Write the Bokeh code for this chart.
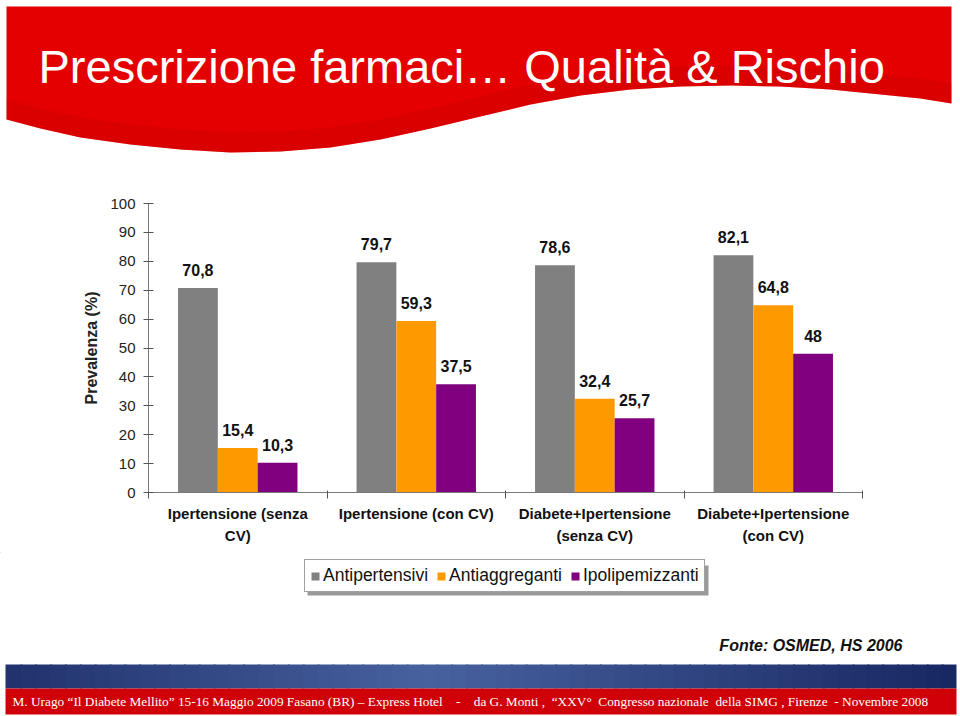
import numpy as np
from bokeh.plotting import figure
from bokeh.models import Range1d, FixedTicker, Legend, LegendItem, ColumnDataSource
from bokeh.layouts import column
from bokeh.embed import file_html
from bokeh.resources import INLINE
from bokeh.core.properties import value

# ---------------- data ----------------
title_text = "Prescrizione farmaci\u2026 Qualit\u00e0 & Rischio"
categories = ["Ipertensione (senza\nCV)", "Ipertensione (con CV)",
              "Diabete+Ipertensione\n(senza CV)", "Diabete+Ipertensione\n(con CV)"]
series_names = ["Antipertensivi", "Antiaggreganti", "Ipolipemizzanti"]
antipertensivi = [70.8, 79.7, 78.6, 82.1]
antiaggreganti = [15.4, 59.3, 32.4, 64.8]
ipolipemizzanti = [10.3, 37.5, 25.7, 48.0]
y_ticks = [0, 10, 20, 30, 40, 50, 60, 70, 80, 90, 100]
y_axis_title = "Prevalenza (%)"
source_note = "Fonte: OSMED, HS 2006"
NB = "\u00a0"
footer_note = ("M. Urago \u201cIl Diabete Mellito\u201d 15-16 Maggio 2009 Fasano (BR) \u2013 Express Hotel"
               + NB * 4 + "-" + NB * 4 + "da G. Monti ," + NB * 2 + "\u201cXXV\u00b0" + NB * 2
               + "Congresso nazionale" + NB * 2 + "della SIMG , Firenze" + NB * 2 + "- Novembre 2008")

series_values = [antipertensivi, antiaggreganti, ipolipemizzanti]
series_colors = ["#808080", "#FF9900", "#800080"]

FONT = value("Liberation Sans")
W = 960

def bare(fig):
    fig.grid.visible = False
    fig.outline_line_color = None
    return fig

# ---------------- header (page y 0..160) ----------------
head = bare(figure(width=W, height=160, x_range=Range1d(0, 960), y_range=Range1d(160, 0),
                   x_axis_type=None, y_axis_type=None, output_backend="svg",
                   toolbar_location=None, min_border=0, frame_align=False))
wave_x = [6, 40, 80, 130, 180, 230, 280, 330, 380, 430, 480, 530, 580, 630, 680, 730, 780, 830, 880, 920, 951]
wave_y = [119, 128, 137, 144, 149, 152, 151, 147, 139, 128, 116, 104, 95, 89, 86, 85, 86, 89, 94, 98, 103]
head.patch([6, 951] + wave_x[::-1], [6, 6] + wave_y[::-1], fill_color="#E40000", line_color=None)
shade_y = [y - 20 for y in wave_y]
head.patch(wave_x + wave_x[::-1], wave_y + shade_y[::-1], fill_color="#C80000", fill_alpha=0.3,
           line_color=None)
head.text(x=[38], y=[66], text=[title_text], text_font=FONT, text_font_size="47px",
          text_color="white", text_baseline="middle", text_align="left")

# ---------------- chart (page y 160..552) ----------------
p = bare(figure(frame_width=714, frame_height=289, x_range=Range1d(0, 4), y_range=Range1d(0, 100),
                output_backend="svg", toolbar_location=None, frame_align=False,
                min_border_left=148, min_border_right=98, min_border_top=43, min_border_bottom=60))

centers = np.arange(len(categories)) + 0.5
bw = 0.223
offsets = [-bw, 0.0, bw]
for name, vals, col, off in zip(series_names, series_values, series_colors, offsets):
    src = ColumnDataSource(dict(x=centers + off, top=vals,
                                lab=[("%g" % v).replace(".", ",") for v in vals]))
    p.vbar(x="x", top="top", bottom=0, width=bw, source=src, fill_color=col, line_color=None)
    p.text(x="x", y="top", text="lab", source=src, text_align="center", text_baseline="bottom",
           y_offset=-12, text_font=FONT, text_font_style="bold", text_font_size="16px",
           text_color="#111111")

ya = p.yaxis[0]
ya.ticker = FixedTicker(ticks=y_ticks, minor_ticks=[])
ya.axis_line_color = "#7a7a7a"
ya.major_tick_line_color = "#555555"
ya.major_tick_in = 5
ya.major_tick_out = 5
ya.major_label_text_font = "Liberation Sans"
ya.major_label_text_font_size = "15px"
ya.major_label_text_color = "#222222"
ya.major_label_standoff = 8
ya.axis_label = y_axis_title
ya.axis_label_text_font = "Liberation Sans"
ya.axis_label_text_font_style = "bold"
ya.axis_label_text_font_size = "16px"
ya.axis_label_text_color = "#222222"
ya.axis_label_standoff = 7

xa = p.xaxis[0]
xa.ticker = FixedTicker(ticks=list(centers), minor_ticks=list(range(len(categories) + 1)))
xa.major_label_overrides = {float(c): lab for c, lab in zip(centers, categories)}
xa.axis_line_color = "#7a7a7a"
xa.major_tick_in = 0
xa.major_tick_out = 0
xa.minor_tick_in = 2
xa.minor_tick_out = 6
xa.minor_tick_line_color = "#555555"
xa.major_label_text_font = "Liberation Sans"
xa.major_label_text_font_style = "bold"
xa.major_label_text_font_size = "15px"
xa.major_label_text_line_height = 1.3
xa.major_label_text_color = "#111111"
xa.major_label_standoff = 6

# ---------------- footer (page y 552..716) ----------------
foot = bare(figure(width=W, height=164, x_range=Range1d(0, 960), y_range=Range1d(716, 552),
                   x_axis_type=None, y_axis_type=None, output_backend="svg",
                   toolbar_location=None, min_border=0, frame_align=False))
# legend shadow (decoration)
foot.quad(left=[307], right=[708], top=[565], bottom=[595], fill_color="#9a9a9a", line_color=None)
leg_renderers = [foot.vbar(x=[-100], top=[0], bottom=[0], width=1, fill_color=c, line_color=None)
                 for c in series_colors]
legend = Legend(items=[LegendItem(label=n, renderers=[r]) for n, r in zip(series_names, leg_renderers)],
                orientation="horizontal", location=(304, 124), glyph_width=10, glyph_height=10,
                label_text_font="Liberation Sans", label_text_font_size="17.5px",
                label_text_color="#111111", label_standoff=3, spacing=8, padding=5,
                margin=0, border_line_color="#444444", border_line_width=1, label_height=20,
                background_fill_color="white", background_fill_alpha=1.0)
foot.add_layout(legend)

n = 64
edges = np.linspace(5, 956, n + 1)
mid = 0.5 * (edges[:-1] + edges[1:])
t = np.clip(1 - np.abs(mid - 430) / 520, 0, 1)
dark = np.array([24, 40, 98])
light = np.array([72, 98, 160])
cols = ["#%02x%02x%02x" % tuple((dark + (light - dark) * tt).astype(int)) for tt in t]
foot.quad(left=edges[:-1], right=np.minimum(edges[1:] + 2, 956), top=[664] * n, bottom=[688] * n,
          fill_color=cols, line_color=None)
foot.quad(left=[5], right=[956], top=[688], bottom=[714], fill_color="#CF0008", line_color=None)
foot.text(x=[902], y=[645], text=[source_note], text_font=FONT, text_font_style="bold italic",
          text_font_size="16px", text_color="#111111", text_align="right", text_baseline="middle")
foot.text(x=[12], y=[701], text=[footer_note], text_font=value("Liberation Serif"),
          text_font_size="13.3px", text_color="white", text_align="left", text_baseline="middle")

layout = column(head, p, foot, spacing=0)
open("out.html", "w").write(file_html(layout, INLINE))
